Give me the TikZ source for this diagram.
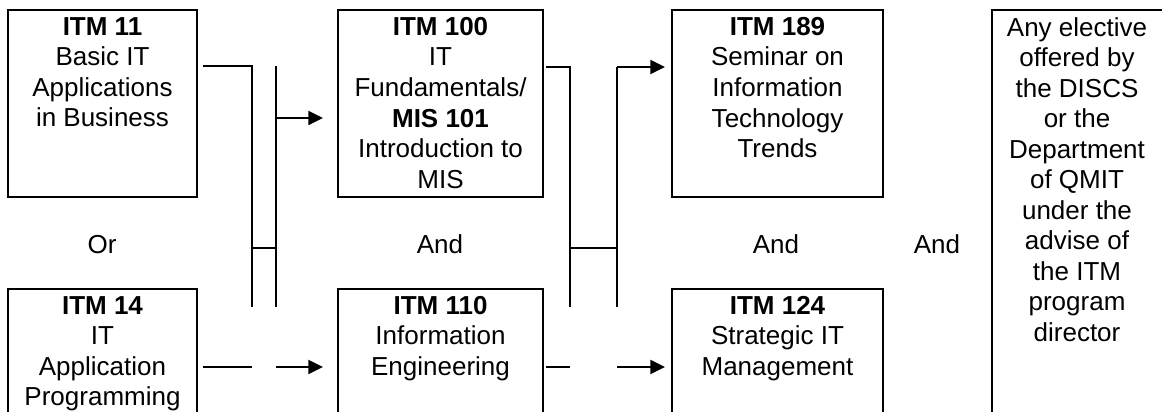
\documentclass[tikz,border=0pt]{standalone}
\usepackage{fontspec}
\setmainfont{Liberation Sans}
\usetikzlibrary{arrows.meta}
\begin{document}
\begin{tikzpicture}[x=0.75pt,y=-0.75pt,
  cbox/.style={draw, line width=1.5pt, rectangle, inner sep=0pt, outer sep=0pt, anchor=north west},
  txt/.style={anchor=north, inner sep=0pt, align=center, font=\fontsize{19.5}{22.9}\selectfont},
  lbl/.style={anchor=base, inner sep=0pt, font=\fontsize{19.5}{22.9}\selectfont},
  wire/.style={line width=1.5pt},
  arr/.style={line width=1.5pt, -{Triangle[length=11pt,width=10.5pt]}}]
\useasboundingbox (0,0) rectangle (1162,411);
\clip (0,0) rectangle (1162,411);
% boxes
\node[cbox, minimum width=189*0.75pt, minimum height=187*0.75pt] (itm11) at (8,10) {};
\node[cbox, minimum width=189*0.75pt, minimum height=160*0.75pt] (itm14) at (8,289) {};
\node[cbox, minimum width=205*0.75pt, minimum height=187*0.75pt] (itm100) at (338,10) {};
\node[cbox, minimum width=205*0.75pt, minimum height=160*0.75pt] (itm110) at (338,289) {};
\node[cbox, minimum width=211*0.75pt, minimum height=187*0.75pt] (itm189) at (672,10) {};
\node[cbox, minimum width=211*0.75pt, minimum height=160*0.75pt] (itm124) at (672,289) {};
\node[cbox, minimum width=172*0.75pt, minimum height=440*0.75pt] (elec) at (992,10) {};
% texts
\node[txt] (t11) at ([yshift=-7*0.75pt]itm11.north) {\textbf{ITM 11}\\Basic IT\\Applications\\in Business};
\node[txt] (t14) at ([yshift=-7*0.75pt]itm14.north) {\textbf{ITM 14}\\IT\\Application\\Programming};
\node[txt] (t100) at ([yshift=-7*0.75pt]itm100.north) {\textbf{ITM 100}\\IT\\Fundamentals/\\\textbf{MIS 101}\\Introduction to\\MIS};
\node[txt] (t110) at ([yshift=-7*0.75pt]itm110.north) {\textbf{ITM 110}\\Information\\Engineering};
\node[txt] (t189) at ([yshift=-7*0.75pt]itm189.north) {\textbf{ITM 189}\\Seminar on\\Information\\Technology\\Trends};
\node[txt] (t124) at ([yshift=-7*0.75pt]itm124.north) {\textbf{ITM 124}\\Strategic IT\\Management};
\node[txt] (telec) at (1077,17) {Any elective\\offered by\\the DISCS\\or the\\Department\\of QMIT\\under the\\advise of\\the ITM\\program\\director};
% labels
\node[lbl] (or1) at (102,253) {Or};
\node[lbl] (and1) at (440,253) {And};
\node[lbl] (and2) at (776,253) {And};
\node[lbl] (and3) at (937,253) {And};
% connector coordinates, group 1
\coordinate (a0) at (203,66);
\coordinate (a1) at (252,66);
\coordinate (a2) at (252,307);
\coordinate (a3) at (276,66);
\coordinate (a4) at (276,307);
\coordinate (a5) at (276,118);
\coordinate (a6) at (323,118);
\coordinate (a7) at (252,248);
\coordinate (a8) at (276,248);
\coordinate (b0) at (203,367);
\coordinate (b1) at (252,367);
\coordinate (b2) at (276,367);
\coordinate (b3) at (323,367);
% group 2
\coordinate (c0) at (546,67);
\coordinate (c1) at (570,67);
\coordinate (c2) at (570,307);
\coordinate (c3) at (617,67);
\coordinate (c4) at (617,307);
\coordinate (c6) at (665,67);
\coordinate (c7) at (570,248);
\coordinate (c8) at (617,248);
\coordinate (d0) at (546,367);
\coordinate (d1) at (570,367);
\coordinate (d2) at (617,367);
\coordinate (d3) at (665,367);
% connectors
\draw[wire] (a0) -- (a1) -- (a2);
\draw[wire] (a3) -- (a4);
\draw[arr] (a5) -- (a6);
\draw[wire] (a7) -- (a8);
\draw[wire] (b0) -- (b1);
\draw[arr] (b2) -- (b3);
\draw[wire] (c0) -- (c1) -- (c2);
\draw[wire] (c3) -- (c4);
\draw[arr] (c3) -- (c6);
\draw[wire] (c7) -- (c8);
\draw[wire] (d0) -- (d1);
\draw[arr] (d2) -- (d3);
\end{tikzpicture}
\end{document}
